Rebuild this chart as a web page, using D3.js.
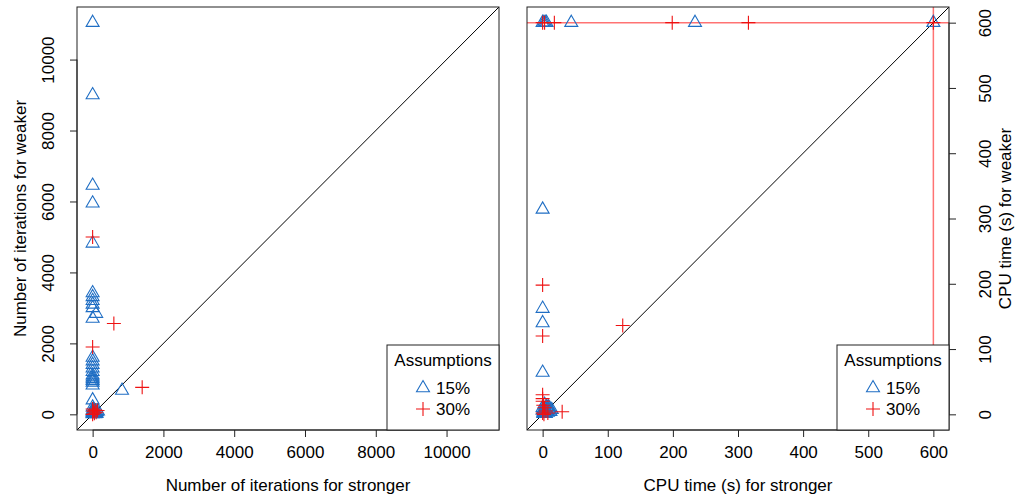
<!DOCTYPE html>
<html>
<head>
<meta charset="utf-8">
<script src="https://cdn.jsdelivr.net/npm/d3@7"></script>
<style>
  body { margin: 0; background: #fff; }
  text { font-family: "Liberation Sans", Arial, sans-serif; font-size: 17px; fill: #000; }
</style>
</head>
<body>
<svg id="chart" width="1016" height="500"></svg>
<script>
// iterations: 15% assumptions (triangles)
let iter15Stronger = [0, 0, 0, 0, 0, 0, 0, 0, 0, 0, 100, 0, 0, 0, 0, 0, 0, 0, 0, 0, 0, 0, 0, 830, 0, 0, 0, 0, 50, 20, 0, 80, 30,
  10, 40, 60, 90, 120, 0, 30, 70, 150, 0, 20, 110];
let iter15Weaker = [11040, 9000, 6450, 5950, 4820, 3420, 3310, 3200, 3100, 3000, 2840, 2700, 1600, 1500, 1400, 1300, 1200, 1100, 1050, 1000, 950, 900, 820, 670, 400, 200, 120, 80, 50, 30, 10, 20, 60,
  15, 40, 25, 50, 70, 50, 100, 10, 90, 30, 130, 20];
// iterations: 30% assumptions (pluses)
let iter30Stronger = [0, 600, 0, 1400, 0, 50, 0, 100, 20, 140, 70];
let iter30Weaker = [5000, 2560, 1900, 760, 150, 30, 0, 60, 90, 110, 120];

// CPU time: 15% assumptions
let cpu15Stronger = [0, 2, 4, 6, 44, 234, 600, 0, 0, 0, 0, 0, 2, 5, 8, 3, 1, 6, 10,
  1, 2, 4, 7, 9, 12, 3, 5, 11, 14, 6, 0];
let cpu15Weaker = [600, 600, 600, 600, 600, 600, 600, 314, 162, 140, 64, 10, 5, 8, 3, 2, 1, 12, 6,
  3, 8, 2, 6, 11, 4, 15, 1, 9, 7, 4, 6];
// CPU time: 30% assumptions
let cpu30Stronger = [0, 3, 18, 199, 316, 600, 0, 0, 123, 0, 0, 30, 0, 2, 5, 1, 3, 8, 0];
let cpu30Weaker = [600, 600, 600, 600, 600, 600, 198, 120, 136, 24, 20, 4, 2, 0, 5, 14, 10, 2, 30];

let iterTicks = [0, 2000, 4000, 6000, 8000, 10000];
let cpuTicks = [0, 100, 200, 300, 400, 500, 600];
let legendTitle = 'Assumptions';
let legendLabels = ['15%', '30%'];
let timeoutLimit = 600;

let blue = '#1f6ec4';
let red = '#ee1111';

let svg = d3.select('#chart');

let trianglePath = 'M0,-7.5L6.5,3.75L-6.5,3.75Z';
let plusPath = 'M-7,0H7M0,-7V7';

let rExtend = (values) => {
  let lo = d3.min(values);
  let hi = d3.max(values);
  let pad = (hi - lo) * 0.04;
  return [lo - pad, hi + pad];
};

let drawPanel = (opts) => {
  let x0 = opts.left, x1 = opts.left + 422, y0 = 7, y1 = 430;
  let all = opts.s15.concat(opts.w15, opts.s30, opts.w30);
  let dom = rExtend(all);
  let xScale = d3.scaleLinear().domain(dom).range([x0, x1]);
  let yScale = d3.scaleLinear().domain(dom).range([y1, y0]);

  let g = svg.append('g');
  let clipId = 'clip' + opts.left;
  svg.append('clipPath').attr('id', clipId)
    .append('rect').attr('x', x0).attr('y', y0).attr('width', x1 - x0).attr('height', y1 - y0);

  let inner = g.append('g').attr('clip-path', 'url(#' + clipId + ')');

  // diagonal y = x
  inner.append('line')
    .attr('x1', xScale(dom[0])).attr('y1', yScale(dom[0]))
    .attr('x2', xScale(dom[1])).attr('y2', yScale(dom[1]))
    .attr('stroke', '#000').attr('stroke-width', 1);

  if (opts.limit) {
    inner.append('line')
      .attr('x1', x0).attr('x2', x1)
      .attr('y1', yScale(opts.limit)).attr('y2', yScale(opts.limit))
      .attr('stroke', 'rgba(255,0,0,0.55)').attr('stroke-width', 1.5);
    inner.append('line')
      .attr('x1', xScale(opts.limit)).attr('x2', xScale(opts.limit))
      .attr('y1', y0).attr('y2', y1)
      .attr('stroke', 'rgba(255,0,0,0.55)').attr('stroke-width', 1.5);
  }

  let tri = opts.s15.map((s, i) => [s, opts.w15[i]]);
  let plus = opts.s30.map((s, i) => [s, opts.w30[i]]);

  g.selectAll(null).data(tri).enter().append('path')
    .attr('d', trianglePath)
    .attr('transform', (d) => 'translate(' + xScale(d[0]) + ',' + yScale(d[1]) + ')')
    .attr('fill', 'none').attr('stroke', blue).attr('stroke-width', 1.1);

  g.selectAll(null).data(plus).enter().append('path')
    .attr('d', plusPath)
    .attr('transform', (d) => 'translate(' + xScale(d[0]) + ',' + yScale(d[1]) + ')')
    .attr('fill', 'none').attr('stroke', red).attr('stroke-width', 1.1);

  // box
  g.append('rect')
    .attr('x', x0).attr('y', y0).attr('width', x1 - x0).attr('height', y1 - y0)
    .attr('fill', 'none').attr('stroke', '#222').attr('stroke-width', 1);

  // x axis
  let xAxis = g.append('g').attr('transform', 'translate(0,' + y1 + ')')
    .call(d3.axisBottom(xScale).tickValues(opts.ticks).tickSize(7).tickPadding(9).tickFormat(d3.format('d')));
  xAxis.selectAll('text').attr('font-size', null).attr('font-family', null);
  xAxis.selectAll('line, path').attr('stroke', '#222');
  xAxis.select('.domain').remove();
  xAxis.append('line')
    .attr('x1', xScale(opts.ticks[0])).attr('x2', xScale(opts.ticks[opts.ticks.length - 1]))
    .attr('y1', 0).attr('y2', 0).attr('stroke', '#222');

  // y axis
  let yAxisFn = opts.yRight ? d3.axisRight(yScale) : d3.axisLeft(yScale);
  let yAxis = g.append('g').attr('transform', 'translate(' + (opts.yRight ? x1 : x0) + ',0)')
    .call(yAxisFn.tickValues(opts.ticks).tickSize(7).tickFormat(d3.format('d')));
  yAxis.selectAll('line').attr('stroke', '#222');
  yAxis.select('.domain').remove();
  yAxis.selectAll('.tick text')
    .attr('font-size', null).attr('font-family', null)
    .attr('x', null).attr('dy', null)
    .attr('text-anchor', 'middle').attr('dominant-baseline', 'central')
    .attr('transform', 'translate(' + (opts.yRight ? 36 : -29) + ',0) rotate(-90)');
  yAxis.append('line')
    .attr('x1', 0).attr('x2', 0)
    .attr('y1', yScale(opts.ticks[0])).attr('y2', yScale(opts.ticks[opts.ticks.length - 1]))
    .attr('stroke', '#222');

  // axis titles
  g.append('text')
    .attr('x', (x0 + x1) / 2).attr('y', 485)
    .attr('text-anchor', 'middle').attr('dominant-baseline', 'central')
    .text(opts.xTitle);
  let ty = (y0 + y1) / 2;
  let tx = opts.yRight ? x1 + 56 : 20;
  g.append('text')
    .attr('transform', 'translate(' + tx + ',' + ty + ') rotate(-90)')
    .attr('text-anchor', 'middle').attr('dominant-baseline', 'central')
    .text(opts.yTitle);

  // legend
  let lx0 = x1 - 112, ly0 = 345;
  g.append('rect')
    .attr('x', lx0).attr('y', ly0).attr('width', x1 - lx0).attr('height', y1 - ly0)
    .attr('fill', '#fff').attr('stroke', '#222').attr('stroke-width', 1);
  g.append('text')
    .attr('x', (lx0 + x1) / 2).attr('y', 360)
    .attr('text-anchor', 'middle').attr('dominant-baseline', 'central')
    .text(legendTitle);
  g.append('path').attr('d', trianglePath)
    .attr('transform', 'translate(' + (lx0 + 36) + ',388)')
    .attr('fill', 'none').attr('stroke', blue).attr('stroke-width', 1.1);
  g.append('path').attr('d', plusPath)
    .attr('transform', 'translate(' + (lx0 + 36) + ',409)')
    .attr('fill', 'none').attr('stroke', red).attr('stroke-width', 1.1);
  legendLabels.forEach((lab, i) => {
    g.append('text')
      .attr('x', lx0 + 49).attr('y', 388 + i * 21)
      .attr('dominant-baseline', 'central')
      .text(lab);
  });
};

drawPanel({
  left: 77,
  s15: iter15Stronger, w15: iter15Weaker,
  s30: iter30Stronger, w30: iter30Weaker,
  ticks: iterTicks,
  xTitle: 'Number of iterations for stronger',
  yTitle: 'Number of iterations for weaker',
  yRight: false
});

drawPanel({
  left: 527,
  s15: cpu15Stronger, w15: cpu15Weaker,
  s30: cpu30Stronger, w30: cpu30Weaker,
  ticks: cpuTicks,
  limit: timeoutLimit,
  xTitle: 'CPU time (s) for stronger',
  yTitle: 'CPU time (s) for weaker',
  yRight: true
});
</script>
</body>
</html>
